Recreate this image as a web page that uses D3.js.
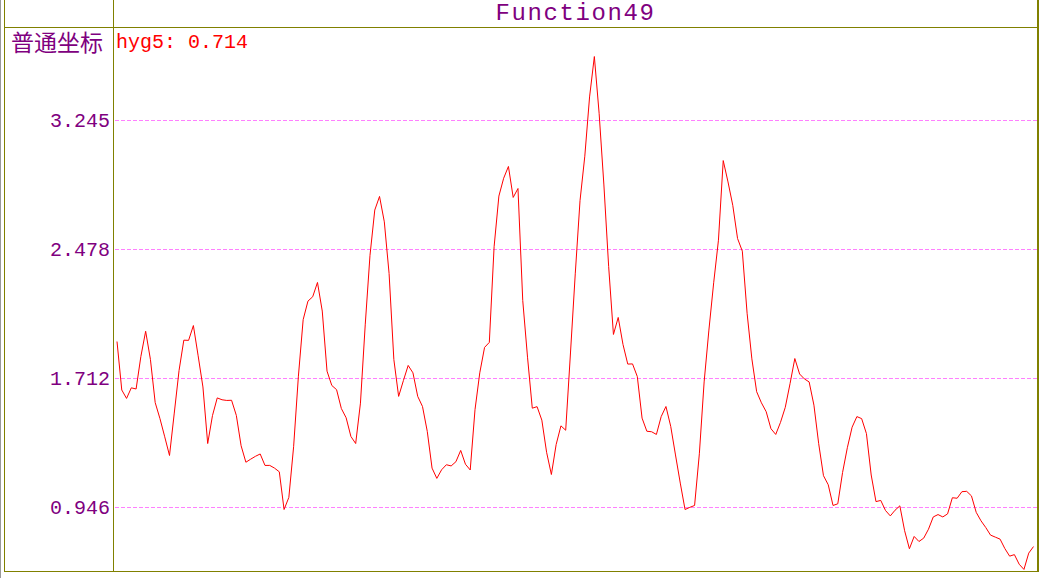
<!DOCTYPE html>
<html><head><meta charset="utf-8">
<script src="https://cdn.jsdelivr.net/npm/d3@7"></script>
<style>html,body{margin:0;padding:0;background:#fff;} svg{display:block}</style>
</head><body>
<script>
// ---- data ----
const chartTitle = "Function49";
const axisName = "普通坐标";
const seriesName = "hyg5";
const tickValues = [0.946, 1.712, 2.478, 3.245];
const tickLabels = ["0.946", "1.712", "2.478", "3.245"];
const yDomain = [0.5658, 3.7975];
const hyg5 = [
  1.932, 1.644, 1.594, 1.657, 1.650, 1.843, 1.993, 1.826, 1.569, 1.474,
  1.366, 1.255, 1.507, 1.760, 1.940, 1.939, 2.027, 1.847, 1.662, 1.326,
  1.492, 1.597, 1.586, 1.582, 1.583, 1.493, 1.313, 1.215, 1.233, 1.250,
  1.264, 1.196, 1.196, 1.180, 1.158, 0.934, 1.006, 1.307, 1.726, 2.062,
  2.172, 2.198, 2.283, 2.113, 1.756, 1.671, 1.646, 1.534, 1.479, 1.368,
  1.326, 1.566, 2.031, 2.444, 2.713, 2.794, 2.643, 2.336, 1.825, 1.606,
  1.700, 1.790, 1.746, 1.606, 1.546, 1.398, 1.180, 1.119, 1.170, 1.200,
  1.193, 1.218, 1.285, 1.203, 1.169, 1.527, 1.746, 1.897, 1.927, 2.495,
  2.796, 2.902, 2.972, 2.788, 2.841, 2.176, 1.839, 1.536, 1.545, 1.465,
  1.274, 1.142, 1.320, 1.431, 1.405, 1.864, 2.334, 2.769, 3.033, 3.385,
  3.625, 3.288, 2.862, 2.377, 1.974, 2.075, 1.915, 1.798, 1.799, 1.724,
  1.477, 1.399, 1.396, 1.380, 1.486, 1.546, 1.428, 1.258, 1.091, 0.934,
  0.947, 0.958, 1.265, 1.692, 2.000, 2.281, 2.534, 3.007, 2.880, 2.741,
  2.544, 2.469, 2.100, 1.829, 1.634, 1.568, 1.515, 1.414, 1.380, 1.452,
  1.541, 1.682, 1.831, 1.739, 1.710, 1.692, 1.554, 1.325, 1.135, 1.081,
  0.958, 0.968, 1.154, 1.301, 1.423, 1.486, 1.474, 1.385, 1.139, 0.981,
  0.988, 0.928, 0.896, 0.930, 0.956, 0.808, 0.701, 0.774, 0.744, 0.764,
  0.817, 0.890, 0.904, 0.890, 0.908, 1.004, 1.001, 1.040, 1.042, 1.015,
  0.917, 0.867, 0.827, 0.782, 0.770, 0.758, 0.702, 0.657, 0.666, 0.609,
  0.578, 0.675, 0.714
];

// ---- layout ----
const W = 1055, H = 578;
const frameLeft = 4.5, axisX = 113.5, plotRight = 1038, headerY = 27.5, plotBottom = 571.5;
const OLIVE = "#808000", PURPLE = "#800080";
const MONO = "'Liberation Mono', 'DejaVu Sans Mono', monospace";

const svg = d3.select("body").append("svg").attr("width", W).attr("height", H);

const x = d3.scaleLinear().domain([0, hyg5.length - 1]).range([117, 1033.5]);
const y = d3.scaleLinear().domain(yDomain).range([plotBottom, headerY]);
const snap = v => Math.round(v - 0.5) + 0.5;

// frame
svg.append("line").attr("x1", 0.5).attr("x2", 0.5).attr("y1", 0).attr("y2", H)
  .attr("stroke", "#999").attr("stroke-width", 1);
const frame = svg.append("g").attr("stroke", OLIVE).attr("shape-rendering", "crispEdges");
frame.append("line").attr("x1", frameLeft).attr("x2", frameLeft).attr("y1", 0).attr("y2", plotBottom + 0.5);
frame.append("line").attr("x1", axisX).attr("x2", axisX).attr("y1", 0).attr("y2", plotBottom);
frame.append("line").attr("x1", frameLeft).attr("x2", plotRight).attr("y1", headerY).attr("y2", headerY);
frame.append("line").attr("x1", frameLeft).attr("x2", plotRight).attr("y1", plotBottom).attr("y2", plotBottom);
frame.append("line").attr("x1", plotRight).attr("x2", plotRight).attr("y1", 0).attr("y2", plotBottom + 0.5)
  .attr("stroke-width", 2);

// grid lines + tick labels
const grid = svg.append("g");
tickValues.forEach((v, i) => {
  const gy = snap(y(v));
  grid.append("line").attr("x1", axisX + 1).attr("x2", plotRight - 1).attr("y1", gy).attr("y2", gy)
    .attr("stroke", "#ff80ff").attr("stroke-width", 1).attr("stroke-dasharray", "4,2")
    .attr("shape-rendering", "crispEdges");
  grid.append("text").attr("x", 110).attr("y", gy + 1)
    .attr("text-anchor", "end").attr("dominant-baseline", "central")
    .attr("fill", PURPLE).attr("font-family", MONO).attr("font-size", 20)
    .text(tickLabels[i]);
});

// series line
const line = d3.line().x((d, i) => x(i)).y(d => y(d));
svg.append("path").datum(hyg5).attr("d", line)
  .attr("fill", "none").attr("stroke", "#ff0000").attr("stroke-width", 1);

// title
svg.append("text").attr("x", 575.5).attr("y", 20).attr("text-anchor", "middle")
  .attr("fill", PURPLE).attr("font-family", MONO).attr("font-size", 24)
  .attr("letter-spacing", 1.6).text(chartTitle);

// header labels
svg.append("text").attr("x", 11).attr("y", 51)
  .attr("fill", PURPLE).attr("font-family", "'Noto Sans CJK SC', sans-serif").attr("font-size", 23)
  .text(axisName);
svg.append("text").attr("x", 116).attr("y", 48)
  .attr("fill", "#ff0000").attr("font-family", MONO).attr("font-size", 20)
  .text(seriesName + ": " + hyg5[hyg5.length - 1].toFixed(3));
</script>
</body></html>
